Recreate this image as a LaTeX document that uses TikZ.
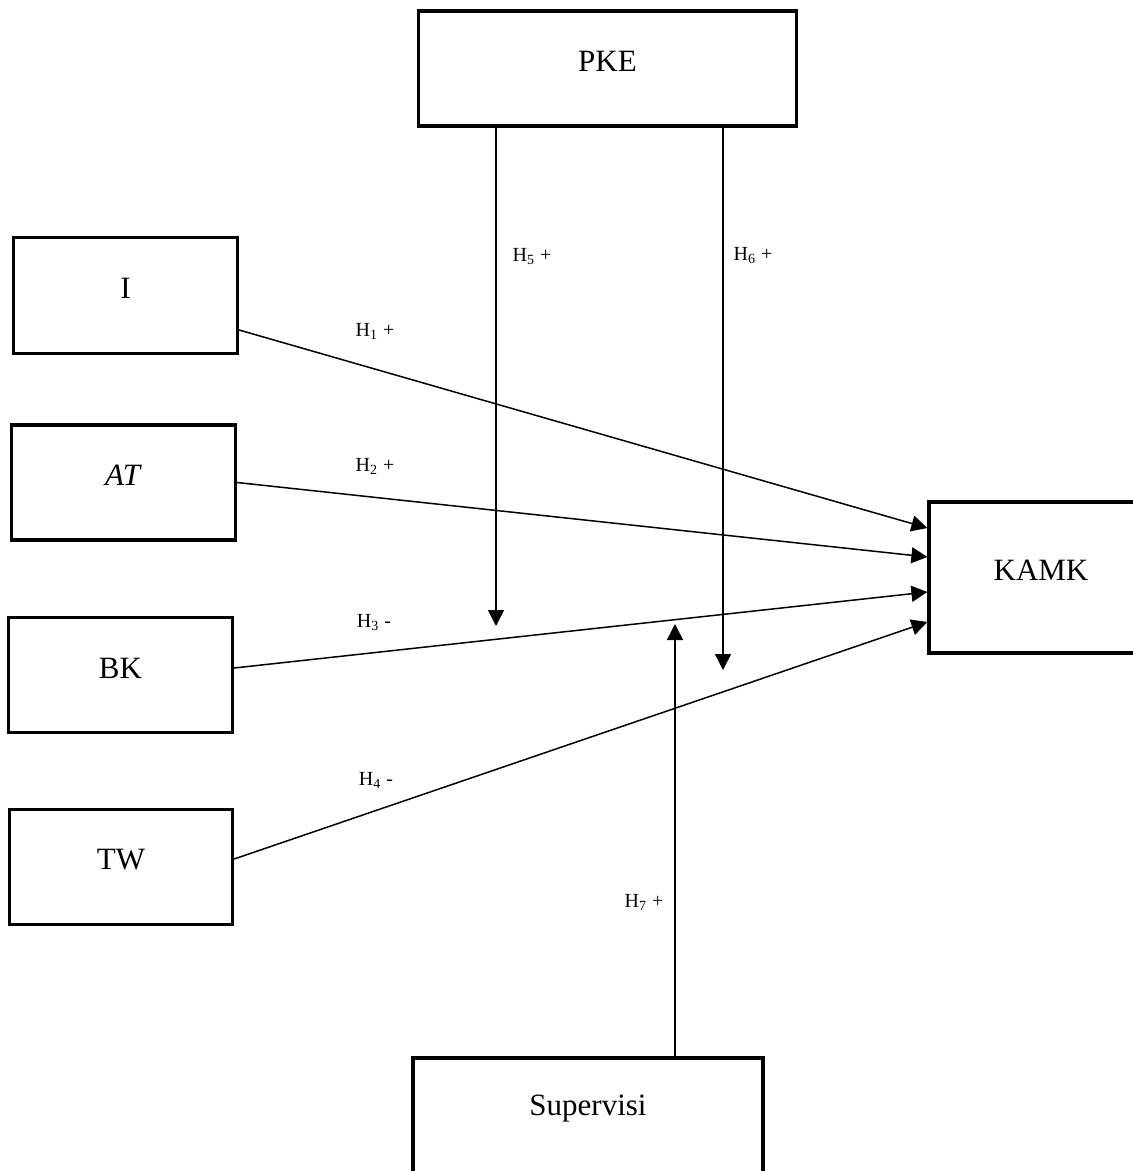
\documentclass[tikz,border=0pt]{standalone}
\usepackage{fontspec}
\setmainfont{Liberation Serif}
\usetikzlibrary{arrows.meta}
\tikzset{
  box/.style={draw, line width=1.6pt, rectangle, inner sep=0pt},
  boxtext/.style={font=\fontsize{15.5}{18}\selectfont, yshift=3.5pt},
  conn/.style={line width=0.75pt},
  arr/.style={conn, -{Triangle[length=8pt,width=8pt]}},
  hyp/.style={font=\fontsize{10}{12}\selectfont, inner sep=0pt}
}
\begin{document}
\begin{tikzpicture}[x=0.5pt, y=-0.5pt]
\useasboundingbox (0,0) rectangle (1133,1171);
\fill[white] (0,0) rectangle (1133,1171);
\begin{scope}
\clip (0,0) rectangle (1133,1171);
% boxes
\node[box, minimum width=189pt, minimum height=57.5pt, label={[boxtext, name=pket]center:PKE}] (pke) at (607.5,68.5) {};
\node[box, minimum width=112pt, minimum height=58pt, label={[boxtext, name=it]center:I}] (i) at (125.5,295.5) {};
\node[box, minimum width=112pt, minimum height=57.5pt, label={[boxtext, name=att]center:\textit{AT}}] (at) at (123.5,482.5) {};
\node[box, minimum width=112pt, minimum height=57.5pt, label={[boxtext, name=bkt]center:BK}] (bk) at (120.5,675) {};
\node[box, minimum width=111.5pt, minimum height=57.5pt, label={[boxtext, name=twt]center:TW}] (tw) at (121,867) {};
\node[box, minimum width=112pt, minimum height=75.5pt, label={[boxtext, name=kamkt]center:KAMK}] (kamk) at (1041,577.5) {};
\node[box, minimum width=175pt, minimum height=57.5pt, label={[boxtext, name=supt]center:Supervisi}] (sup) at (588,1115.5) {};

% arrows to KAMK
\draw[arr] ([shift={(0,34.5)}]i.east) -- ([shift={(0,-49.5)}]kamk.west);
\draw[arr] (at.east) -- ([shift={(0,-20.5)}]kamk.west);
\draw[arr] ([shift={(0,-7)}]bk.east) -- ([shift={(0,14.5)}]kamk.west);
\draw[arr] ([shift={(0,-8)}]tw.east) -- ([shift={(0,44.5)}]kamk.west);

% moderating arrows
\coordinate (h5end) at (496,626);
\coordinate (h6end) at (723,670);
\coordinate (h7end) at (675,624);
\draw[arr] (pke.south -| h5end) -- (h5end);
\draw[arr] (pke.south -| h6end) -- (h6end);
\draw[arr] (sup.north -| h7end) -- (h7end);

% labels
\node[hyp] (l1) at (375,331) {H\textsubscript{1} +};
\node[hyp] (l2) at (375,466) {H\textsubscript{2} +};
\node[hyp] (l3) at (374,623) {H\textsubscript{3} -};
\node[hyp] (l4) at (376,780) {H\textsubscript{4} -};
\node[hyp] (l5) at (532,257) {H\textsubscript{5} +};
\node[hyp] (l6) at (753,256) {H\textsubscript{6} +};
\node[hyp] (l7) at (644,902) {H\textsubscript{7} +};
\end{scope}
\end{tikzpicture}
\end{document}
